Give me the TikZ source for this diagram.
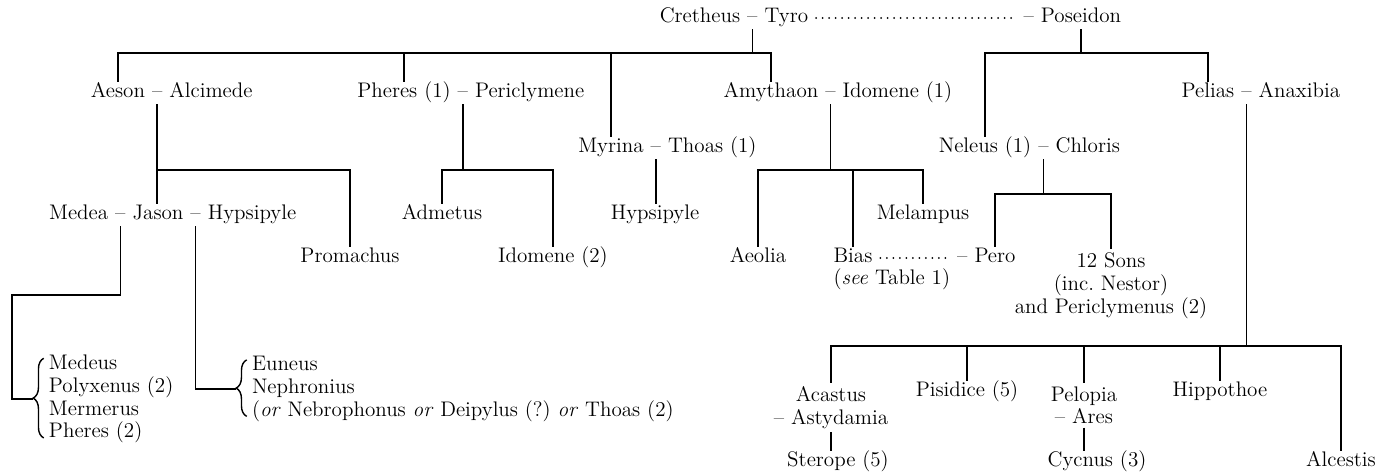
\documentclass[tikz,border=0pt]{standalone}
\usetikzlibrary{positioning,decorations.pathreplacing}

\tikzset{
  pers/.style={inner sep=0pt, outer sep=2pt, text height=1.6ex, text depth=.45ex},
  kids/.style={inner sep=0pt, outer sep=2pt, align=center, anchor=north},
  brood/.style={inner sep=0pt, outer sep=0pt, anchor=west, align=left},
  rel/.style={line width=.9pt},
  curly/.style={line width=.8pt, decorate, decoration={brace, amplitude=6pt}},
  liaison/.style={line width=1.2pt, line cap=round, dash pattern=on 0pt off 3.7pt,
                  shorten <=2.5pt, shorten >=1.5pt},
}

\begin{document}
\begin{tikzpicture}[x=0.02cm, y=-0.02cm, node distance=0pt,
    every node/.style={font=\fontsize{12}{13}\selectfont}]
    \useasboundingbox (0,0) rectangle (1387,475);

    % Cretheus, Tyro and Poseidon
    \node[pers] (cretheus) at (700,18) {Cretheus};
    \node[pers, right=of cretheus] (d-cre) {--};
    \node[pers, right=of d-cre] (tyro) {Tyro};
    \node[pers] (poseidon) at (1081,18) {Poseidon};
    \node[pers, left=of poseidon] (d-pos) {--};
    \draw[liaison] (tyro.east) -- (d-pos.west);

    % Second generation
    \node[pers] (aeson) at (118,93) {Aeson};
    \node[pers, right=of aeson] (d-aes) {--};
    \node[pers, right=of d-aes] (alcimede) {Alcimede};
    \node[pers] (pheres) at (404,93) {Pheres (1)};
    \node[pers, right=of pheres] (d-phe) {--};
    \node[pers, right=of d-phe] (periclymene) {Periclymene};
    \node[pers] (amythaon) at (771,93) {Amythaon};
    \node[pers, right=of amythaon] (d-amy) {--};
    \node[pers, right=of d-amy] (idomene) {Idomene (1)};
    \node[pers] (pelias) at (1208,93) {Pelias};
    \node[pers, right=of pelias] (d-pel) {--};
    \node[pers, right=of d-pel] (anaxibia) {Anaxibia};
    \node[pers] (myrina) at (611,148) {Myrina};
    \node[pers, right=of myrina] (d-myr) {--};
    \node[pers, right=of d-myr] (thoas) {Thoas (1)};
    \node[pers] (neleus) at (985,148) {Neleus (1)};
    \node[pers, right=of neleus] (d-nel) {--};
    \node[pers, right=of d-nel] (chloris) {Chloris};

    % Third generation
    \node[pers] (jason) at (158,215) {Jason};
    \node[pers, left=of jason] (d-med) {--};
    \node[pers, left=of d-med] (medea) {Medea};
    \node[pers, right=of jason] (d-hyp) {--};
    \node[pers, right=of d-hyp] (hypsipyle) {Hypsipyle};
    \node[pers] (admetus) at (442,215) {Admetus};
    \node[pers] (hypsipyleB) at (655,215) {Hypsipyle};
    \node[pers] (melampus) at (923,215) {Melampus};
    \node[pers] (promachus) at (350,258) {Promachus};
    \node[pers] (idomeneB) at (553,258) {Idomene (2)};
    \node[pers] (aeolia) at (758,258) {Aeolia};
    \node[pers] (bias) at (853,258) {Bias};
    \node[pers] (pero) at (995,258) {Pero};
    \node[pers, left=of pero] (d-pero) {--};
    \draw[liaison] (bias.east) -- (d-pero.west);
    \node[pers, anchor=north west] (seetable) at (bias.south west) {(\textit{see} Table 1)};
    \node[kids] (sons) at (1111,249) {12 Sons\\(inc.\ Nestor)\\and Periclymenus (2)};

    % Children of Pelias
    \node[kids] (acastus) at (831,383) {Acastus\\-- Astydamia};
    \node[pers] (pisidice) at (967,392) {Pisidice (5)};
    \node[kids] (pelopia) at (1084,383) {Pelopia\\-- Ares};
    \node[pers] (hippothoe) at (1220,392) {Hippothoe};
    \node[pers] (sterope) at (838,462) {Sterope (5)};
    \node[pers] (cycnus) at (1097,462) {Cycnus (3)};
    \node[pers] (alcestis) at (1341,462) {Alcestis};

    % Sons of Jason
    \node[brood] (sonsmedea) at (49,399) {Medeus\\Polyxenus (2)\\Mermerus\\Pheres (2)};
    \node[brood] (sonshyps) at (252,389) {Euneus\\Nephronius\\(\textit{or} Nebrophonus \textit{or} Deipylus (?)\ \textit{or} Thoas (2)};
    \draw[curly] ([shift={(-3pt,3pt)}]sonsmedea.south west) -- ([shift={(-3pt,-2pt)}]sonsmedea.north west);
    \draw[curly] ([shift={(-3pt,3pt)}]sonshyps.south west) -- ([shift={(-3pt,-2pt)}]sonshyps.north west);
    \coordinate (tip-med) at ([xshift=-9pt]sonsmedea.west);
    \coordinate (tip-hyp) at ([xshift=-9pt]sonshyps.west);

    % Bars
    \coordinate (b-top) at (0,53);
    \coordinate (b-mid) at (0,170);
    \coordinate (b-nel) at (0,194);
    \coordinate (b-pel) at (0,346);
    \coordinate (b-med) at (12,295);

    \draw[rel] (d-cre.south) -- (d-cre.south |- b-top);
    \draw[rel] (aeson.north) |- (b-top -| amythaon.north) -- (amythaon.north);
    \draw[rel] (pheres.north) -- (pheres.north |- b-top);
    \draw[rel] (myrina.north) -- (myrina.north |- b-top);
    \draw[rel] (poseidon.south) -- (poseidon.south |- b-top);
    \draw[rel] (neleus.north) |- (b-top -| pelias.north) -- (pelias.north);

    \draw[rel] (d-aes.south) -- (d-aes.south |- jason.north);
    \draw[rel] (d-aes.south |- b-mid) -| (promachus.north);
    \draw[rel] (d-phe.south) -- (d-phe.south |- b-mid);
    \draw[rel] (admetus.north) |- (b-mid -| idomeneB.north) -- (idomeneB.north);
    \draw[rel] (d-myr.south) -- (d-myr.south |- hypsipyleB.north);
    \draw[rel] (d-amy.south) -- (d-amy.south |- b-mid);
    \draw[rel] (aeolia.north) |- (b-mid -| melampus.north) -- (melampus.north);
    \draw[rel] (bias.north) -- (bias.north |- b-mid);
    \draw[rel] (d-nel.south) -- (d-nel.south |- b-nel);
    \draw[rel] (pero.north) |- (b-nel -| sons.north) -- (sons.north);

    \draw[rel] (d-pel.south) -- (d-pel.south |- b-pel);
    \draw[rel] (acastus.north) |- (b-pel -| alcestis.north) -- (alcestis.north);
    \foreach \k in {pisidice, pelopia, hippothoe}
      \draw[rel] (\k.north) -- (\k.north |- b-pel);
    \draw[rel] (acastus.south) -- (acastus.south |- sterope.north);
    \draw[rel] (pelopia.south) -- (pelopia.south |- cycnus.north);

    \draw[rel] (d-med.south) |- (b-med) |- (tip-med);
    \draw[rel] (d-hyp.south) |- (tip-hyp);
\end{tikzpicture}
\end{document}
